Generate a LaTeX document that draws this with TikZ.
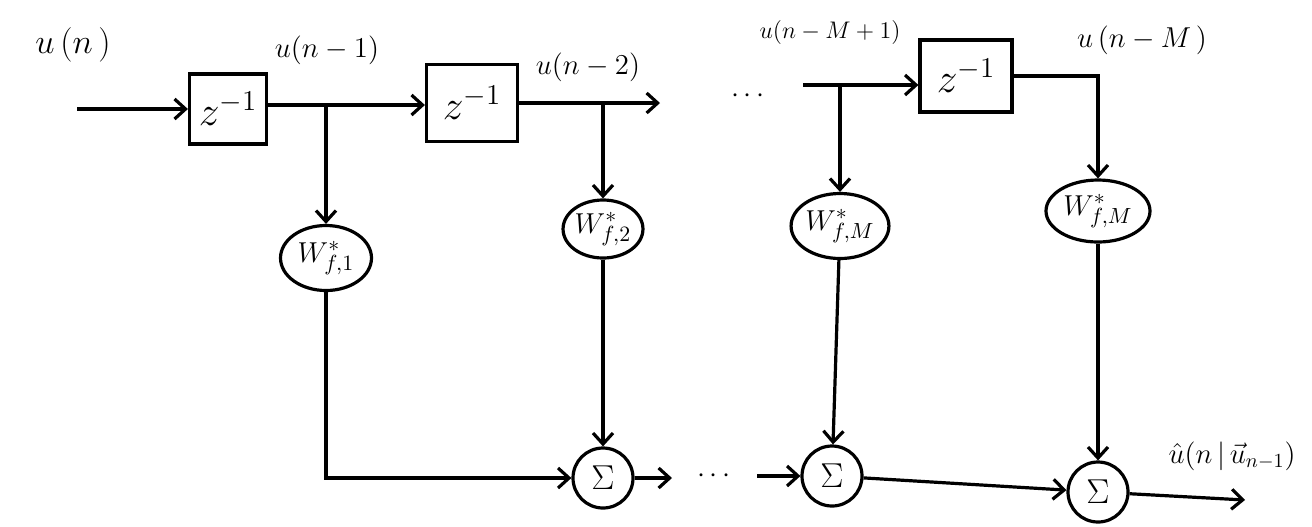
\documentclass[tikz,border=0pt]{standalone}
\usetikzlibrary{arrows.meta,shapes.geometric}
\begin{document}
\begin{tikzpicture}[x=0.5pt,y=-0.5pt,line width=1.6pt,
  arr/.style={-{Straight Barb[length=5.5pt,width=10pt]}},
  delay/.style={draw,rectangle,inner sep=0pt,font=\fontsize{20}{22}\selectfont},
  weight/.style={draw,ellipse,inner sep=0pt,font=\fontsize{15}{17}\selectfont},
  adder/.style={draw,circle,inner sep=0pt,minimum size=30pt,font=\fontsize{16}{18}\selectfont},
  lab/.style={inner sep=0pt,font=\fontsize{14}{16}\selectfont},
  dotsnode/.style={inner sep=0pt,font=\fontsize{14}{16}\selectfont}]
\useasboundingbox (0,0) rectangle (1312,526);
% delay boxes
\node[delay,minimum width=38.5pt,minimum height=35pt] (b1) at (228,109) {$z^{-1}$};
\node[delay,minimum width=45.5pt,minimum height=38.5pt] (b2) at (472,103) {$z^{-1}$};
\node[delay,minimum width=46pt,minimum height=36pt] (b3) at (966,76) {$z^{-1}$};
% weights
\node[weight,minimum width=45.5pt,minimum height=32.5pt] (w1) at (326,258) {$W^{*}_{f,1}$};
\node[weight,minimum width=36pt,minimum height=29pt] (w2) at (603,229) {$W^{*}_{f,2}$};
\node[weight,minimum width=40pt,minimum height=32.5pt] (w3) at (840,226) {$W^{*}_{f,M}$};
\node[weight,minimum width=52pt,minimum height=31pt] (w4) at (1098,211) {$W^{*}_{f,M}$};
% adders
\node[adder] (s1) at (603,478) {$\Sigma$};
\node[adder] (s2) at (832,476) {$\Sigma$};
\node[adder] (s3) at (1098,492) {$\Sigma$};
% labels
\node[lab,font=\fontsize{18}{20}\selectfont] (lun) at (73,45) {$u\,(n\,)$};
\node[lab] (lun1) at (327,50) {$u(n-1)$};
\node[lab] (lun2) at (588,67) {$u(n-2)$};
\node[lab,font=\fontsize{12}{14}\selectfont] (lunm1) at (830,32) {$u(n-M+1)$};
\node[lab,font=\fontsize{15}{17}\selectfont] (lunm) at (1142,40) {$u\,(n-M\,)$};
\node[lab] (lout) at (1232,456) {$\hat{u}(n\,|\,\vec{u}_{n-1})$};
% top row
\coordinate (in) at (77,109);
\draw[arr] (in) -- (b1);
\coordinate (t1) at (326,105);
\draw[arr] (b1.east |- t1) -- (b2.west |- t1);
\draw[arr] (t1) -- (w1);
\coordinate (t2) at (603,103);
\coordinate (e2) at (660,103);
\draw[arr] (b2.east |- t2) -- (e2);
\draw[arr] (t2) -- (w2);
\node[dotsnode] (d1) at (748,96) {$\cdots$};
\coordinate (s3in) at (803,85);
\draw[arr] (s3in) -- (s3in -| b3.west);
\coordinate (t3) at (840,85);
\draw[arr] (t3) -- (w3);
\draw[arr] (b3.east) -| (w4);
% down to adders
\draw[arr] (w1) |- (s1);
\draw[arr] (w2) -- (s1);
\draw[arr] (w3) -- (s2);
\draw[arr] (w4) -- (s3);
% bottom row
\coordinate (o1) at (672,478);
\draw[arr] (s1) -- (o1);
\node[dotsnode] (d2) at (714,476) {$\cdots$};
\coordinate (i2) at (757,476);
\draw[arr] (i2) -- (s2);
\draw[arr] (s2) -- (s3);
\coordinate (out) at (1245,500);
\draw[arr] (s3) -- (out);
\end{tikzpicture}
\end{document}
